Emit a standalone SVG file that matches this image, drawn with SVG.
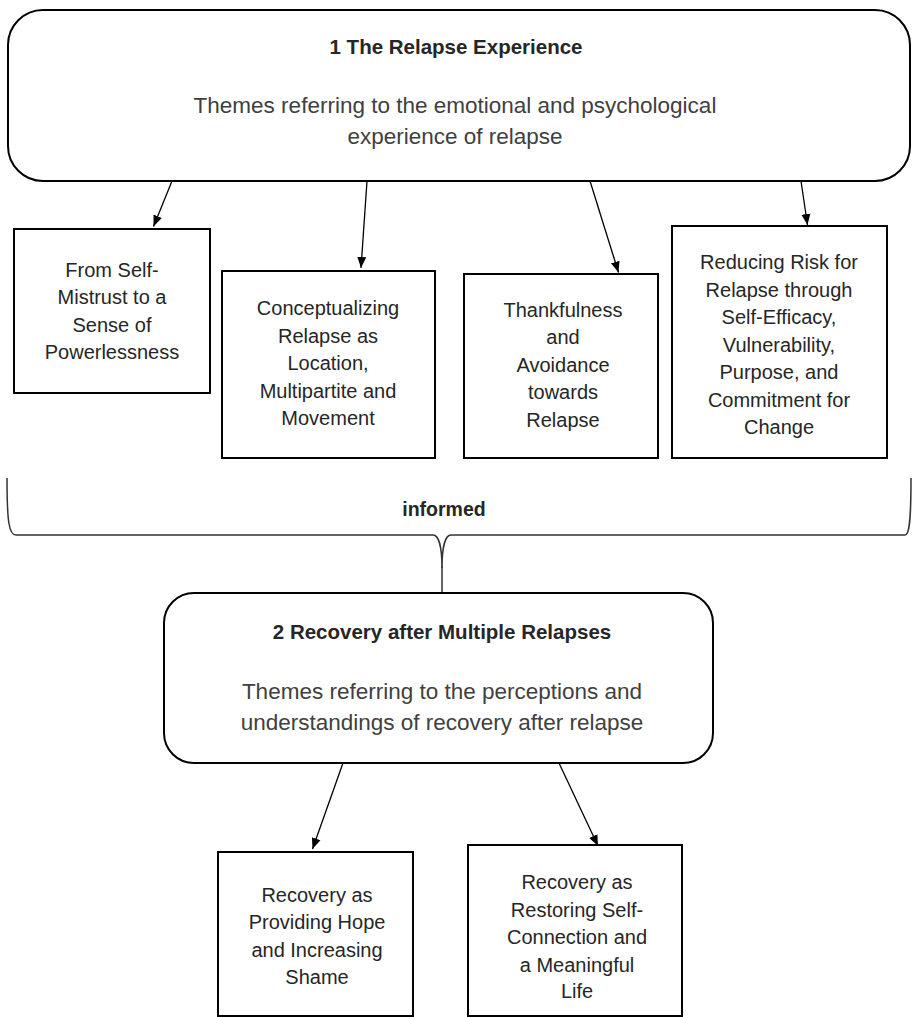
<svg xmlns="http://www.w3.org/2000/svg" width="912" height="1017" viewBox="0 0 912 1017">
<style>
  .node { fill: #ffffff; stroke: #000000; stroke-width: 2; }
  .conn { fill: none; stroke: #000000; stroke-width: 1.3; }
  .brace { fill: none; stroke: #333333; stroke-width: 1.5; }
  .title { font-family: "Liberation Sans", Arial, sans-serif; font-weight: bold; font-size: 20.5px; fill: #262626; text-anchor: middle; }
  .sub { font-family: "Liberation Sans", Arial, sans-serif; font-size: 22.5px; fill: #404040; text-anchor: middle; }
  .txt { font-family: "Liberation Sans", Arial, sans-serif; font-size: 20px; fill: #262626; text-anchor: middle; }
  .lbl { font-family: "Liberation Sans", Arial, sans-serif; font-weight: bold; font-size: 19.5px; fill: #262626; text-anchor: middle; }
</style>
<defs>
  <marker id="arrow" markerUnits="userSpaceOnUse" markerWidth="12" markerHeight="12" viewBox="0 0 12 12" refX="11" refY="6" orient="auto">
    <path d="M0,1.5 L11,6 L0,10.5 Z" fill="#000000"/>
  </marker>
</defs>
<rect width="912" height="1017" fill="#ffffff"/>

<g id="connectors">
  <line class="conn" x1="172" y1="181" x2="153.5" y2="226.5" marker-end="url(#arrow)"/>
  <line class="conn" x1="367" y1="181" x2="361" y2="268" marker-end="url(#arrow)"/>
  <line class="conn" x1="590" y1="181" x2="618.5" y2="272.5" marker-end="url(#arrow)"/>
  <line class="conn" x1="801" y1="181" x2="807.5" y2="225" marker-end="url(#arrow)"/>
  <line class="conn" x1="343" y1="763" x2="312.5" y2="849" marker-end="url(#arrow)"/>
  <line class="conn" x1="559" y1="763" x2="598" y2="846" marker-end="url(#arrow)"/>
  <g id="informed">
    <path class="brace" d="M7,478 C7,522 9,535 16,535 L433,535 C438,535 442,545 442,568 C442,545 446,535 451,535 L905,535 C909,535 911,524 911,478"/>
    <line class="brace" x1="442" y1="566" x2="442" y2="593"/>
    <text class="lbl" x="444" y="516">informed</text>
  </g>
</g>

<g id="n1">
  <rect class="node" x="8" y="10" width="902" height="171" rx="35" ry="35"/>
  <text class="title" x="456" y="54">1 The Relapse Experience</text>
  <text class="sub" x="455" y="113">Themes referring to the emotional and psychological</text>
  <text class="sub" x="455" y="144">experience of relapse</text>
</g>

<g id="n1a">
  <rect class="node" x="14" y="229" width="196" height="164"/>
  <text class="txt" x="112" y="277">From Self-</text>
  <text class="txt" x="112" y="304">Mistrust to a</text>
  <text class="txt" x="112" y="332">Sense of</text>
  <text class="txt" x="112" y="359">Powerlessness</text>
</g>

<g id="n1b">
  <rect class="node" x="222" y="271" width="213" height="187"/>
  <text class="txt" x="328" y="315">Conceptualizing</text>
  <text class="txt" x="328" y="343">Relapse as</text>
  <text class="txt" x="328" y="370">Location,</text>
  <text class="txt" x="328" y="398">Multipartite and</text>
  <text class="txt" x="328" y="425">Movement</text>
</g>

<g id="n1c">
  <rect class="node" x="464" y="274" width="194" height="184"/>
  <text class="txt" x="563" y="317">Thankfulness</text>
  <text class="txt" x="563" y="344">and</text>
  <text class="txt" x="563" y="372">Avoidance</text>
  <text class="txt" x="563" y="399">towards</text>
  <text class="txt" x="563" y="427">Relapse</text>
</g>

<g id="n1d">
  <rect class="node" x="672" y="226" width="215" height="232"/>
  <text class="txt" x="779" y="269">Reducing Risk for</text>
  <text class="txt" x="779" y="297">Relapse through</text>
  <text class="txt" x="779" y="324">Self-Efficacy,</text>
  <text class="txt" x="779" y="352">Vulnerability,</text>
  <text class="txt" x="779" y="379">Purpose, and</text>
  <text class="txt" x="779" y="407">Commitment for</text>
  <text class="txt" x="779" y="434">Change</text>
</g>

<g id="n2">
  <rect class="node" x="164" y="593" width="549" height="170" rx="30" ry="30"/>
  <text class="title" x="442" y="639">2 Recovery after Multiple Relapses</text>
  <text class="sub" x="442" y="699">Themes referring to the perceptions and</text>
  <text class="sub" x="442" y="730">understandings of recovery after relapse</text>
</g>

<g id="n2a">
  <rect class="node" x="218" y="852" width="195" height="164"/>
  <text class="txt" x="317" y="902">Recovery as</text>
  <text class="txt" x="317" y="929">Providing Hope</text>
  <text class="txt" x="317" y="957">and Increasing</text>
  <text class="txt" x="317" y="984">Shame</text>
</g>

<g id="n2b">
  <rect class="node" x="468" y="845" width="214" height="171"/>
  <text class="txt" x="577" y="889">Recovery as</text>
  <text class="txt" x="577" y="917">Restoring Self-</text>
  <text class="txt" x="577" y="944">Connection and</text>
  <text class="txt" x="577" y="972">a Meaningful</text>
  <text class="txt" x="577" y="998">Life</text>
</g>
</svg>
